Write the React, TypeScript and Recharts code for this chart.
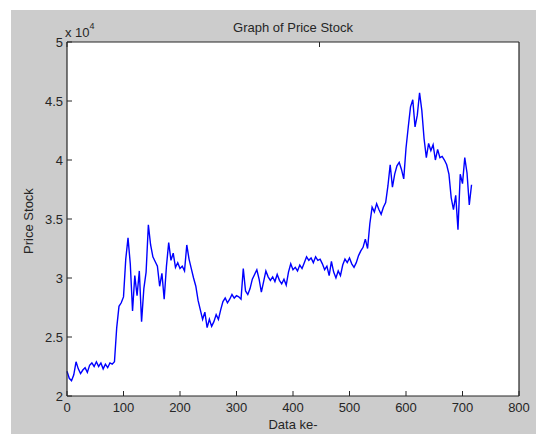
import { Line, LineChart, XAxis, YAxis } from "recharts";

// sampling step between stored points (index "Data ke-")
const STEP = 4;

// closing price, one value every STEP samples
const PRICE = [
  22100, 21500, 21300, 21800, 22900, 22300, 21900, 22200, 22400, 22000,
  22600, 22800, 22500, 22900, 22500, 22800, 22300, 22700, 22400, 22800,
  22700, 22900, 25800, 27600, 27900, 28400, 31600, 33400, 31200, 27200,
  30200, 28500, 30600, 26300, 29100, 30500, 34500, 32800, 31800, 31400,
  31000, 29300, 30400, 28200, 31000, 33000, 31500, 32100, 30900, 31300,
  30800, 31000, 30600, 32800, 31600, 30800, 30000, 29300, 28100, 27300,
  26500, 27100, 25800, 26500, 25900, 26300, 26900, 26500, 27300, 28000,
  28300, 27900, 28200, 28600, 28300, 28500, 28400, 28200, 30800, 28900,
  28600, 29100, 29900, 30300, 30700, 29900, 28800, 29700, 30600, 30100,
  29800, 30100, 29700, 30300, 29800, 29500, 29900, 29400, 30500, 31200,
  30700, 30900, 30600, 31100, 30800, 31300, 31800, 31500, 31700, 31300,
  31800, 31500, 31600, 31200, 30700, 31000, 30200, 31400, 30500, 30000,
  30600, 30200, 31100, 31600, 31300, 31700, 31200, 30900, 31300, 31900,
  32300, 32600, 33300, 32500, 34600, 36000, 35600, 36300, 35800, 35400,
  36000, 36400, 37800, 39600, 37700, 38800, 39500, 39800, 39200, 38400,
  41000, 42800, 44500, 45100, 42800, 43800, 45700, 44200, 41800, 40200,
  41400, 40800, 41300, 40000, 40900, 40200, 40300, 40000, 39600, 38800,
  36800, 35800, 37000, 34100, 38800, 38000, 40200, 38900, 36200, 37900,
];

const X_TICKS = [0, 100, 200, 300, 400, 500, 600, 700, 800];
const Y_TICKS = [20000, 25000, 30000, 35000, 40000, 45000, 50000];

const rows = PRICE.map((price, i) => ({ idx: i * STEP, price }));

const INK = "#262626";
const FONT = "'Liberation Sans', Arial, sans-serif";

// MATLAB style: ticks point inward, labels outside the box
function BottomTick({ x, y, payload }: any) {
  return (
    <g>
      <line x1={x} x2={x} y1={y} y2={y - 5} stroke={INK} />
      <text x={x} y={y + 16} textAnchor="middle" fontSize={13} fontFamily={FONT} fill={INK}>
        {payload.value}
      </text>
    </g>
  );
}

function LeftTick({ x, y, payload }: any) {
  return (
    <g>
      <line x1={x} x2={x + 5} y1={y} y2={y} stroke={INK} />
      <text x={x - 4} y={y + 5} textAnchor="end" fontSize={13} fontFamily={FONT} fill={INK}>
        {payload.value / 10000}
      </text>
    </g>
  );
}

function TopTick({ x, y }: any) {
  return <line x1={x} x2={x} y1={y} y2={y + 5} stroke={INK} />;
}

function RightTick({ x, y }: any) {
  return <line x1={x} x2={x - 5} y1={y} y2={y} stroke={INK} />;
}

const textBase: React.CSSProperties = {
  position: "absolute",
  fontFamily: FONT,
  fontSize: 13,
  color: INK,
  whiteSpace: "nowrap",
};

export default function App() {
  return (
    <div style={{ position: "absolute", left: 0, top: 0, width: 536, height: 434, background: "#fff", overflow: "hidden" }}>
      <div style={{ position: "absolute", left: 11, top: 10, right: 0, bottom: 0, background: "#cccccc" }} />
      <div style={{ position: "absolute", left: 67, top: 42, width: 452, height: 354, background: "#fff" }} />
      <div style={{ position: "absolute", left: 0, top: 0 }}>
        <LineChart width={536} height={434} data={rows} margin={{ top: 41, right: 16, bottom: 37, left: 66 }}>
          <XAxis
            dataKey="idx"
            type="number"
            domain={[0, 800]}
            ticks={X_TICKS}
            height={1}
            tickSize={0}
            tickMargin={0}
            tick={<BottomTick />}
            axisLine={{ stroke: INK, strokeWidth: 1.2 }}
            interval={0}
          />
          <XAxis
            xAxisId="top"
            orientation="top"
            type="number"
            domain={[0, 800]}
            ticks={X_TICKS}
            height={1}
            tickSize={0}
            tickMargin={0}
            tick={<TopTick />}
            axisLine={{ stroke: INK, strokeWidth: 1.2 }}
            interval={0}
          />
          <YAxis
            type="number"
            domain={[20000, 50000]}
            ticks={Y_TICKS}
            width={1}
            tickSize={0}
            tickMargin={0}
            tick={<LeftTick />}
            axisLine={{ stroke: INK, strokeWidth: 1.2 }}
            interval={0}
          />
          <YAxis
            yAxisId="right"
            orientation="right"
            type="number"
            domain={[20000, 50000]}
            ticks={Y_TICKS}
            width={1}
            tickSize={0}
            tickMargin={0}
            tick={<RightTick />}
            axisLine={{ stroke: INK, strokeWidth: 1.2 }}
            interval={0}
          />
          <Line
            type="linear"
            dataKey="price"
            stroke="#0000ff"
            strokeWidth={1.4}
            dot={false}
            isAnimationActive={false}
          />
        </LineChart>
      </div>
      <div style={{ ...textBase, left: 293, top: 20, transform: "translateX(-50%)" }}>Graph of Price Stock</div>
      <div style={{ ...textBase, left: 65, top: 25 }}>
        x 10<sup style={{ fontSize: 9, verticalAlign: "top", position: "relative", top: -4 }}>4</sup>
      </div>
      <div style={{ ...textBase, left: 293, top: 417, transform: "translateX(-50%)" }}>Data ke-</div>
      <div style={{ ...textBase, left: 28, top: 221, transform: "translate(-50%, -50%) rotate(-90deg)" }}>Price Stock</div>
    </div>
  );
}
